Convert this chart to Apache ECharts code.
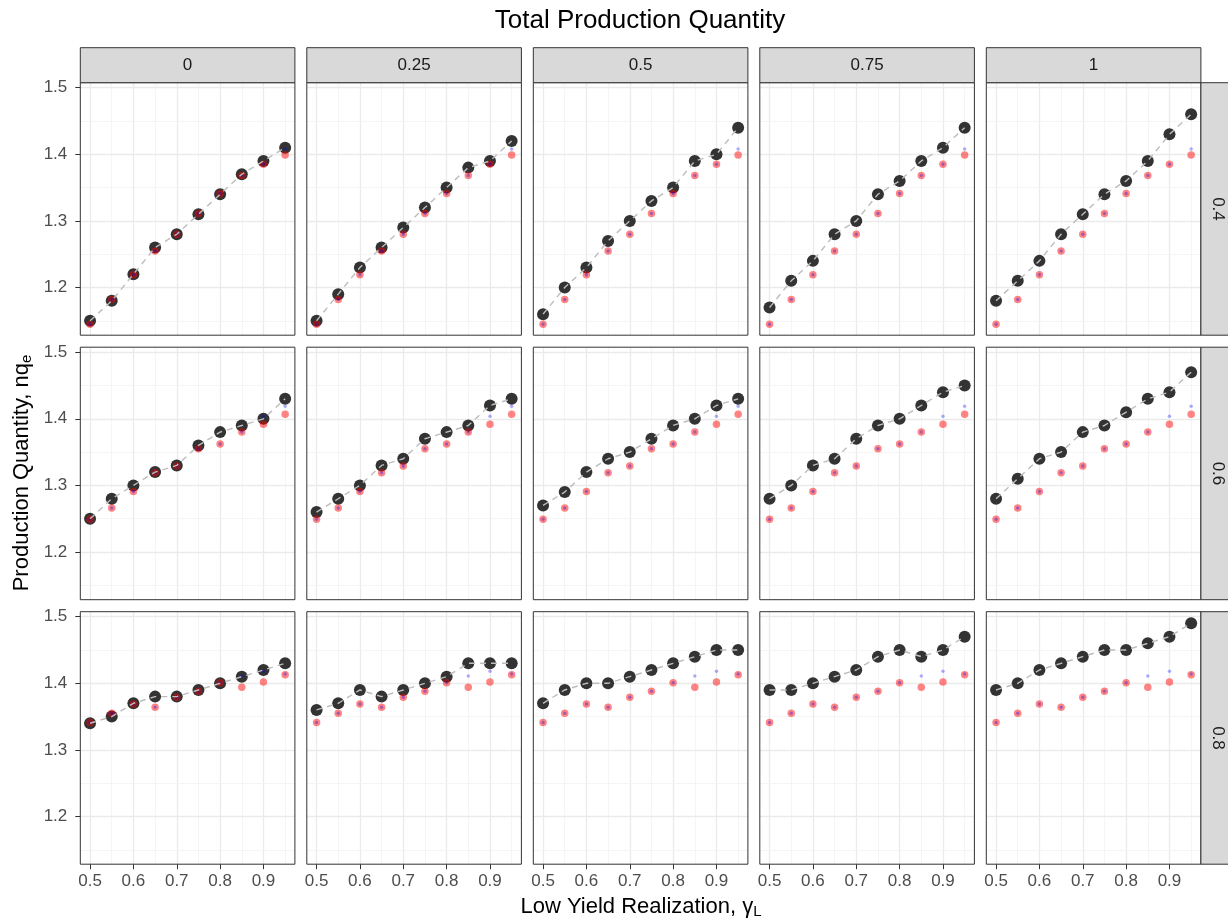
<!DOCTYPE html>
<html>
<head>
<meta charset="utf-8">
<script src="https://cdn.jsdelivr.net/npm/echarts@6/dist/echarts.min.js"></script>
<style>
html,body{margin:0;padding:0;background:#fff;}
#chart{width:1228px;height:920px;}
</style>
</head>
<body>
<div id="chart"></div>
<script>
// ---------------- DATA ----------------
const xValues = [0.5, 0.55, 0.6, 0.65, 0.7, 0.75, 0.8, 0.85, 0.9, 0.95];
const colLabels = ['0', '0.25', '0.5', '0.75', '1'];
const rowLabels = ['0.4', '0.6', '0.8'];
const xTicks = [0.5, 0.6, 0.7, 0.8, 0.9];
const xMinor = [0.55, 0.65, 0.75, 0.85, 0.95];
const yTicks = [1.2, 1.3, 1.4, 1.5];
const yMinor = [1.15, 1.25, 1.35, 1.45];

// red (small) points, same in every column of a row
const red_04 = [1.145, 1.182, 1.219, 1.255, 1.280, 1.311, 1.341, 1.368, 1.385, 1.399];
const red_06 = [1.249, 1.266, 1.291, 1.319, 1.329, 1.355, 1.362, 1.380, 1.392, 1.407];
const red_08 = [1.341, 1.355, 1.369, 1.364, 1.379, 1.388, 1.401, 1.394, 1.402, 1.413];

// blue (tiny) points
const blue_04 = [1.145, 1.182, 1.219, 1.255, 1.280, 1.311, 1.341, 1.368, 1.385, 1.408];
const blue_06 = [1.249, 1.266, 1.291, 1.319, 1.329, 1.355, 1.362, 1.380, 1.404, 1.419];
const blue_08 = [1.341, 1.355, 1.369, 1.364, 1.379, 1.388, 1.401, 1.411, 1.418, 1.414];

// black (large) points, per row / column
const black_04_0   = [1.15, 1.18, 1.22, 1.26, 1.28, 1.31, 1.34, 1.37, 1.39, 1.41];
const black_04_025 = [1.15, 1.19, 1.23, 1.26, 1.29, 1.32, 1.35, 1.38, 1.39, 1.42];
const black_04_05  = [1.16, 1.20, 1.23, 1.27, 1.30, 1.33, 1.35, 1.39, 1.40, 1.44];
const black_04_075 = [1.17, 1.21, 1.24, 1.28, 1.30, 1.34, 1.36, 1.39, 1.41, 1.44];
const black_04_1   = [1.18, 1.21, 1.24, 1.28, 1.31, 1.34, 1.36, 1.39, 1.43, 1.46];

const black_06_0   = [1.25, 1.28, 1.30, 1.32, 1.33, 1.36, 1.38, 1.39, 1.40, 1.43];
const black_06_025 = [1.26, 1.28, 1.30, 1.33, 1.34, 1.37, 1.38, 1.39, 1.42, 1.43];
const black_06_05  = [1.27, 1.29, 1.32, 1.34, 1.35, 1.37, 1.39, 1.40, 1.42, 1.43];
const black_06_075 = [1.28, 1.30, 1.33, 1.34, 1.37, 1.39, 1.40, 1.42, 1.44, 1.45];
const black_06_1   = [1.28, 1.31, 1.34, 1.35, 1.38, 1.39, 1.41, 1.43, 1.44, 1.47];

const black_08_0   = [1.34, 1.35, 1.37, 1.38, 1.38, 1.39, 1.40, 1.41, 1.42, 1.43];
const black_08_025 = [1.36, 1.37, 1.39, 1.38, 1.39, 1.40, 1.41, 1.43, 1.43, 1.43];
const black_08_05  = [1.37, 1.39, 1.40, 1.40, 1.41, 1.42, 1.43, 1.44, 1.45, 1.45];
const black_08_075 = [1.39, 1.39, 1.40, 1.41, 1.42, 1.44, 1.45, 1.44, 1.45, 1.47];
const black_08_1   = [1.39, 1.40, 1.42, 1.43, 1.44, 1.45, 1.45, 1.46, 1.47, 1.49];

const redRows = [red_04, red_06, red_08];
const blueRows = [blue_04, blue_06, blue_08];
const blackRows = [
  [black_04_0, black_04_025, black_04_05, black_04_075, black_04_1],
  [black_06_0, black_06_025, black_06_05, black_06_075, black_06_1],
  [black_08_0, black_08_025, black_08_05, black_08_075, black_08_1]
];

// ---------------- LAYOUT ----------------
const FONT = '"Liberation Sans", Arial, "DejaVu Sans", sans-serif';
const L0 = 80.3, DX = 226.5, PW = 214.6;
const T0 = 82.7, DY = 264.5, PH = 252.5;
const STRIP_H = 35;
const X_MIN = 0.4775, X_MAX = 0.9725;
const Y_MIN = 1.1284, Y_MAX = 1.5075;

const pairs = (ys) => xValues.map((x, i) => [x, ys[i]]);

const grids = [], xAxes = [], yAxes = [], series = [], graphics = [];

for (let r = 0; r < 3; r++) {
  for (let c = 0; c < 5; c++) {
    const idx = r * 5 + c;
    const left = L0 + c * DX, top = T0 + r * DY;
    grids.push({ left: left, top: top, width: PW, height: PH, show: true,
      backgroundColor: '#ffffff', borderWidth: 0, containLabel: false });
    const isBottom = r === 2, isLeft = c === 0;
    xAxes.push({
      gridIndex: idx, type: 'value', min: X_MIN, max: X_MAX,
      axisLine: { show: false },
      splitLine: { show: false },
      axisTick: { show: isBottom, length: 5, inside: false, customValues: xTicks,
        lineStyle: { color: '#333333', width: 1 } },
      axisLabel: { show: isBottom, customValues: xTicks, margin: 9,
        color: '#4d4d4d', fontSize: 17, fontFamily: FONT,
        formatter: (v) => Number(v).toFixed(1) }
    });
    yAxes.push({
      gridIndex: idx, type: 'value', min: Y_MIN, max: Y_MAX,
      axisLine: { show: false },
      splitLine: { show: false },
      axisTick: { show: isLeft, length: 5, inside: false, customValues: yTicks,
        lineStyle: { color: '#333333', width: 1 } },
      axisLabel: { show: isLeft, customValues: yTicks, margin: 13,
        color: '#4d4d4d', fontSize: 17, fontFamily: FONT,
        formatter: (v) => Number(v).toFixed(1) }
    });

    const gridLines = [];
    xTicks.forEach(v => gridLines.push({ xAxis: v, lineStyle: { color: '#ebebeb', width: 1.3, type: 'solid' } }));
    xMinor.forEach(v => gridLines.push({ xAxis: v, lineStyle: { color: '#f2f2f2', width: 0.8, type: 'solid' } }));
    yTicks.forEach(v => gridLines.push({ yAxis: v, lineStyle: { color: '#ebebeb', width: 1.3, type: 'solid' } }));
    yMinor.forEach(v => gridLines.push({ yAxis: v, lineStyle: { color: '#f2f2f2', width: 0.8, type: 'solid' } }));

    series.push({
      type: 'scatter', xAxisIndex: idx, yAxisIndex: idx, z: 3, silent: true,
      data: pairs(blackRows[r][c]), symbolSize: 12,
      itemStyle: { color: '#333333', opacity: 1 },
      markLine: { z: 1, silent: true, symbol: ['none', 'none'], label: { show: false },
        animation: false, data: gridLines }
    });
    series.push({
      type: 'scatter', xAxisIndex: idx, yAxisIndex: idx, z: 4, silent: true,
      data: pairs(redRows[r]), symbolSize: 7.5,
      itemStyle: { color: 'rgba(255,0,0,0.6)' }
    });
    series.push({
      type: 'scatter', xAxisIndex: idx, yAxisIndex: idx, z: 5, silent: true,
      data: pairs(blueRows[r]), symbolSize: 3.5,
      itemStyle: { color: 'rgba(0,0,255,0.4)' }
    });
    series.push({
      type: 'line', xAxisIndex: idx, yAxisIndex: idx, z: 6, silent: true,
      data: pairs(blackRows[r][c]), symbol: 'none',
      lineStyle: { color: '#bdbdbd', width: 1.4, type: [6, 5] }
    });

    // panel border
    graphics.push({ type: 'rect', z: 100, silent: true,
      shape: { x: left, y: top, width: PW, height: PH },
      style: { fill: null, stroke: '#333333', lineWidth: 1 } });
  }
}

// column strips
for (let c = 0; c < 5; c++) {
  const left = L0 + c * DX;
  graphics.push({ type: 'rect', z: 100, silent: true,
    shape: { x: left, y: T0 - STRIP_H, width: PW, height: STRIP_H },
    style: { fill: '#d9d9d9', stroke: '#333333', lineWidth: 1 } });
  graphics.push({ type: 'text', z: 101, silent: true,
    x: left + PW / 2, y: T0 - STRIP_H / 2,
    style: { text: colLabels[c], fill: '#1a1a1a', font: '17px ' + FONT,
      textAlign: 'center', textVerticalAlign: 'middle' } });
}
// row strips
for (let r = 0; r < 3; r++) {
  const top = T0 + r * DY;
  const left = L0 + 4 * DX + PW;
  graphics.push({ type: 'rect', z: 100, silent: true,
    shape: { x: left, y: top, width: 40, height: PH },
    style: { fill: '#d9d9d9', stroke: '#333333', lineWidth: 1 } });
  graphics.push({ type: 'text', z: 101, silent: true,
    x: left + 17, y: top + PH / 2, rotation: -Math.PI / 2,
    style: { text: rowLabels[r], fill: '#1a1a1a', font: '17px ' + FONT,
      textAlign: 'center', textVerticalAlign: 'middle' } });
}
// title
graphics.push({ type: 'text', z: 101, silent: true, x: 640, y: 21,
  style: { text: 'Total Production Quantity', fill: '#000000', font: '26px ' + FONT,
    textAlign: 'center', textVerticalAlign: 'middle' } });
// x axis title
graphics.push({ type: 'text', z: 101, silent: true, x: 641, y: 907,
  style: { text: 'Low Yield Realization, γ{sub|L}', fill: '#000000', font: '22px ' + FONT,
    fontSize: 22, fontFamily: FONT, lineHeight: 24,
    textAlign: 'center', textVerticalAlign: 'middle',
    rich: { sub: { fontSize: 15, fontFamily: FONT, lineHeight: 12, verticalAlign: 'bottom', fill: '#000000' } } } });
// y axis title
graphics.push({ type: 'text', z: 101, silent: true, x: 22, y: 473, rotation: Math.PI / 2,
  style: { text: 'Production Quantity, nq{sub|e}', fill: '#000000', font: '22px ' + FONT,
    fontSize: 22, fontFamily: FONT, lineHeight: 24,
    textAlign: 'center', textVerticalAlign: 'middle',
    rich: { sub: { fontSize: 15, fontFamily: FONT, lineHeight: 12, verticalAlign: 'bottom', fill: '#000000' } } } });

const chart = echarts.init(document.getElementById('chart'), null, { renderer: 'canvas' });
chart.setOption({
  animation: false,
  backgroundColor: '#ffffff',
  textStyle: { fontFamily: FONT },
  grid: grids,
  xAxis: xAxes,
  yAxis: yAxes,
  series: series,
  graphic: { elements: graphics }
});
</script>
</body>
</html>
